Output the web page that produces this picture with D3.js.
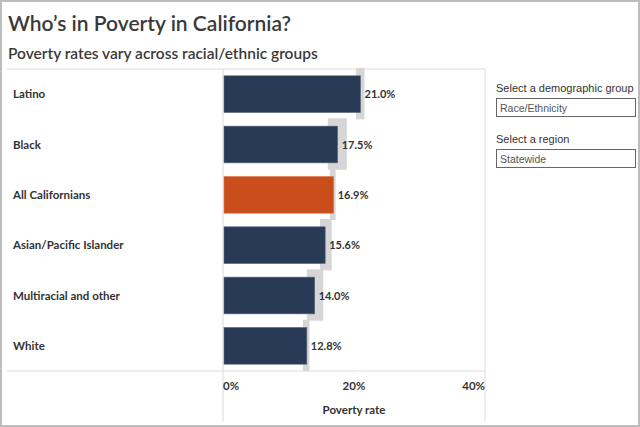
<!DOCTYPE html>
<html>
<head>
<meta charset="utf-8">
<script src="https://cdn.jsdelivr.net/npm/d3@7"></script>
<style>
  body { margin: 0; background: #fff; }
  svg text { font-family: Lato, "Noto Sans", sans-serif; fill: #333; }
  svg text.panel { font-family: "Liberation Sans", Arial, sans-serif; }
</style>
</head>
<body>
<svg id="chart" width="640" height="427"></svg>
<script>
// data
var groups = ["Latino", "Black", "All Californians", "Asian/Pacific Islander", "Multiracial and other", "White"]
var rates = [21.0, 17.5, 16.9, 15.6, 14.0, 12.8]
var ciLow = [20.3, 16.0, 16.3, 14.8, 12.8, 12.2]
var ciHigh = [21.6, 18.9, 17.2, 16.6, 15.3, 13.2]
var xTicks = [0, 20, 40]

const svg = d3.select("#chart"),
    width = +svg.attr("width"),
    height = +svg.attr("height"),
    margin = {top: 69, bottom: 371, left: 223, right: 485};

var rows = groups.map(function (g, i) {
    return {name: g, rate: rates[i], lo: ciLow[i], hi: ciHigh[i]};
});

// outer frame
svg.append("rect")
    .attr("x", 1).attr("y", 1)
    .attr("width", width - 2).attr("height", height - 2)
    .attr("fill", "none").attr("stroke", "#bdbdbd").attr("stroke-width", 2);

// Scales
const x = d3.scaleLinear().domain([0, 40]).range([margin.left, margin.right]);
const y = d3.scaleBand().domain(groups).range([margin.top, margin.bottom]).padding(0);

// titles
svg.append("text").attr("x", 8).attr("y", 31)
    .style("font-size", "21px").style("font-weight", 600).style("fill", "#3a3a3a")
    .text("Who\u2019s in Poverty in California?");
svg.append("text").attr("x", 8).attr("y", 59)
    .style("font-size", "15.5px").style("font-weight", 600).style("fill", "#3a3a3a")
    .text("Poverty rates vary across racial/ethnic groups");

// frame lines of the table
var lineColor = "#dcdcdc";
svg.append("line").attr("x1", 7).attr("x2", margin.right)
    .attr("y1", margin.top).attr("y2", margin.top).attr("stroke", lineColor);
svg.append("line").attr("x1", 7).attr("x2", margin.right)
    .attr("y1", margin.bottom).attr("y2", margin.bottom).attr("stroke", lineColor);
[margin.left, margin.right].forEach(function (xx) {
    svg.append("line").attr("x1", xx).attr("x2", xx)
        .attr("y1", margin.top).attr("y2", 421).attr("stroke", lineColor);
});

// confidence ranges
svg.append("g").selectAll("rect").data(rows).enter().append("rect")
    .attr("x", function (d) { return x(d.lo); })
    .attr("width", function (d) { return x(d.hi) - x(d.lo); })
    .attr("y", function (d) { return y(d.name) - 1; })
    .attr("height", y.bandwidth() + 1)
    .attr("fill", "#d6d6d6");

// bars
const bar = d3.scaleBand().domain(groups).range([margin.top, margin.bottom]).paddingInner(0.27).paddingOuter(0.135);
svg.append("g").selectAll("rect").data(rows).enter().append("rect")
    .attr("x", x(0) + 1)
    .attr("width", function (d) { return x(d.rate) - x(0) - 1; })
    .attr("y", function (d) { return bar(d.name); })
    .attr("height", bar.bandwidth())
    .attr("fill", function (d) { return d.name == "All Californians" ? "#c94e1b" : "#283a55"; })
    .attr("stroke", function (d) { return d.name == "All Californians" ? "#e07a4f" : "#5a6a80"; })
    .attr("stroke-width", 0.6);

// value labels
svg.append("g").selectAll("text").data(rows).enter().append("text")
    .attr("x", function (d) { return x(d.rate) + 4; })
    .attr("y", function (d) { return y(d.name) + y.bandwidth() / 2 + 4; })
    .style("font-size", "11px").style("font-weight", 700)
    .text(function (d) { return d.rate.toFixed(1) + "%"; });

// row labels
svg.append("g").selectAll("text").data(rows).enter().append("text")
    .attr("x", 13)
    .attr("y", function (d) { return y(d.name) + y.bandwidth() / 2 + 4; })
    .style("font-size", "11.5px").style("font-weight", 700)
    .text(function (d) { return d.name; });

// x axis labels
svg.append("g").selectAll("text").data(xTicks).enter().append("text")
    .attr("x", function (d) { return x(d); })
    .attr("y", 390)
    .style("font-size", "11.5px").style("font-weight", 700)
    .style("text-anchor", function (d, i) { return i == 0 ? "start" : (i == xTicks.length - 1 ? "end" : "middle"); })
    .text(function (d) { return d + "%"; });
svg.append("line").attr("x1", x(20)).attr("x2", x(20))
    .attr("y1", margin.bottom).attr("y2", margin.bottom + 3).attr("stroke", "#eee");
svg.append("text").attr("x", x(20)).attr("y", 414)
    .style("text-anchor", "middle").style("font-size", "11.5px").style("font-weight", 700)
    .text("Poverty rate");

// filter panel
var filters = [{label: "Select a demographic group", value: "Race/Ethnicity", y: 88},
               {label: "Select a region", value: "Statewide", y: 139}];
var panel = svg.append("g").selectAll("g").data(filters).enter().append("g");
panel.append("text").attr("class", "panel").attr("x", 496).attr("y", function (d) { return d.y + 4; })
    .style("font-size", "11px").text(function (d) { return d.label; });
panel.append("rect").attr("x", 496.5).attr("y", function (d) { return d.y + 10.5; })
    .attr("width", 139).attr("height", 18)
    .attr("fill", "#fff").attr("stroke", "#666");
panel.append("text").attr("class", "panel").attr("x", 500).attr("y", function (d) { return d.y + 23.5; })
    .style("font-size", "10.5px").style("fill", "#555").text(function (d) { return d.value; });
</script>
</body>
</html>
